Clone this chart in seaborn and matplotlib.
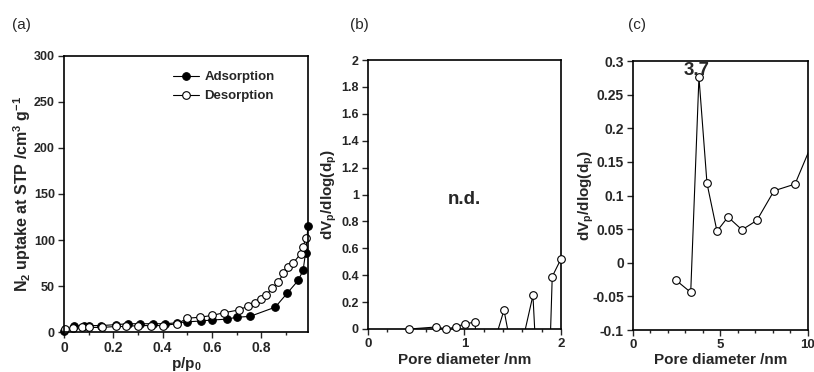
import numpy as np
import seaborn as sns
import matplotlib
matplotlib.use('Agg')
import matplotlib.pyplot as plt
from matplotlib.ticker import MultipleLocator, FuncFormatter

# ---------- data ----------
# (a) N2 isotherm
p_ads = [0.0, 0.04, 0.08, 0.10, 0.15, 0.21, 0.26, 0.31, 0.36, 0.41, 0.46, 0.50, 0.555,
         0.60, 0.66, 0.70, 0.755, 0.857, 0.905, 0.95, 0.97, 0.98, 0.99]
v_ads = [1, 6, 7, 7, 7, 8, 9, 9, 9, 9, 10, 11, 12, 13, 14, 16, 17, 27, 42, 56, 67, 86, 115]

p_des = [0.005, 0.035, 0.075, 0.10, 0.155, 0.21, 0.25, 0.30, 0.355, 0.40, 0.46, 0.50, 0.55,
         0.60, 0.65, 0.71, 0.745, 0.775, 0.80, 0.82, 0.845, 0.87, 0.89, 0.91, 0.93, 0.96, 0.97, 0.98]
v_des = [3, 4, 5, 5, 5, 6, 6, 7, 7, 7, 9, 15, 16, 18, 21, 24, 28, 31, 36, 40, 48, 54, 64, 71,
         75, 85, 92, 102]

# (b) pore size distribution, micropores
dp_b = [0.43, 0.71, 0.81, 0.91, 1.01, 1.11, 1.20, 1.30, 1.41, 1.50, 1.60, 1.71, 1.80, 1.85, 1.91, 2.00]
dv_b = [0.0, 0.015, 0.0, 0.015, 0.04, 0.05, -1.0, -0.12, 0.14, -0.2, -0.1, 0.25, -1.0, -1.0, 0.39, 0.52]

# (c) pore size distribution, mesopores
dp_c = [2.46, 3.30, 3.77, 4.23, 4.80, 5.43, 6.23, 7.08, 8.06, 9.26, 10.6]
dv_c = [-0.026, -0.044, 0.276, 0.118, 0.047, 0.068, 0.049, 0.063, 0.107, 0.117, 0.2]

# ---------- style ----------
sns.set_style('ticks')
plt.rcParams['font.family'] = ['Liberation Sans', 'DejaVu Sans']
plt.rcParams['font.weight'] = 'bold'
plt.rcParams['mathtext.fontset'] = 'custom'
plt.rcParams['mathtext.rm'] = 'Liberation Sans:bold'
plt.rcParams['mathtext.it'] = 'Liberation Sans:bold'
plt.rcParams['mathtext.bf'] = 'Liberation Sans:bold'
plt.rcParams['mathtext.default'] = 'rm'

label_fs = 11
lw = 0.8
ms = 5.5

fig = plt.figure(figsize=(8.14, 3.72), dpi=100)
ax_a = fig.add_axes([0.0786, 0.1075, 0.2998, 0.742])
ax_b = fig.add_axes([0.452, 0.1156, 0.2371, 0.7231])
ax_c = fig.add_axes([0.7776, 0.1129, 0.215, 0.7231])

def g_fmt(v, pos):
    return '%g' % round(v, 4)

for ax in (ax_a, ax_b, ax_c):
    for s in ax.spines.values():
        s.set_linewidth(1.2)
        s.set_color('black')
    ax.tick_params(which='major', direction='out', length=4, width=1.0, pad=2.5)
    ax.tick_params(which='minor', direction='out', length=2.5, width=1.0)
    ax.yaxis.set_major_formatter(FuncFormatter(g_fmt))
    ax.xaxis.set_major_formatter(FuncFormatter(g_fmt))

ax_a.tick_params(axis='x', labelsize=10)
ax_a.tick_params(axis='y', labelsize=9)
ax_b.tick_params(axis='x', labelsize=9.5)
ax_b.tick_params(axis='y', labelsize=9)
ax_c.tick_params(axis='x', labelsize=9.5)
ax_c.tick_params(axis='y', labelsize=10)

# ---------- (a) ----------
sns.lineplot(x=p_ads, y=v_ads, ax=ax_a, sort=False, estimator=None, color='black', lw=lw,
             marker='o', markersize=ms, markerfacecolor='black', markeredgecolor='black',
             clip_on=False, label='Adsorption')
sns.lineplot(x=p_des, y=v_des, ax=ax_a, sort=False, estimator=None, color='black', lw=lw,
             marker='o', markersize=ms, markerfacecolor='white', markeredgecolor='black',
             markeredgewidth=0.8, clip_on=False, label='Desorption')
ax_a.set_xlim(0, 0.99)
ax_a.set_ylim(0, 300)
ax_a.set_xticks([0, 0.2, 0.4, 0.6, 0.8])
ax_a.xaxis.set_minor_locator(MultipleLocator(0.1))
ax_a.yaxis.set_major_locator(MultipleLocator(50))
ax_a.set_xlabel('p/p$_0$', fontsize=label_fs, fontweight='bold')
ax_a.set_ylabel('N$_2$ uptake at STP /cm$^3$ g$^{-1}$', fontsize=11.5, fontweight='bold')
ax_a.xaxis.set_label_coords(0.5, -0.085)
ax_a.yaxis.set_label_coords(-0.125, 0.5)
ax_a.legend(loc='upper right', bbox_to_anchor=(0.895, 0.974), frameon=False, fontsize=9.5,
            handlelength=2.0, handletextpad=0.4, labelspacing=0.5, borderaxespad=0.2)

# ---------- (b) ----------
sns.lineplot(x=dp_b, y=dv_b, ax=ax_b, sort=False, estimator=None, color='black', lw=lw)
mask_b = np.array(dv_b) >= 0
sns.scatterplot(x=np.array(dp_b)[mask_b], y=np.array(dv_b)[mask_b], ax=ax_b, s=ms ** 2,
                facecolor='white', edgecolor='black', linewidth=0.8, clip_on=False, zorder=3)
ax_b.set_xlim(0, 2)
ax_b.set_ylim(0, 2)
ax_b.xaxis.set_major_locator(MultipleLocator(1))
ax_b.xaxis.set_minor_locator(MultipleLocator(0.2))
ax_b.yaxis.set_major_locator(MultipleLocator(0.2))
ax_b.set_xlabel('Pore diameter /nm', fontsize=label_fs, fontweight='bold')
ax_b.set_ylabel('dV$_p$/dlog(d$_p$)', fontsize=label_fs, fontweight='bold')
ax_b.xaxis.set_label_coords(0.5, -0.088)
ax_b.yaxis.set_label_coords(-0.15, 0.5)
ax_b.text(1.0, 0.96, 'n.d.', ha='center', va='center', fontsize=13.5, fontweight='bold')

# ---------- (c) ----------
sns.lineplot(x=dp_c, y=dv_c, ax=ax_c, sort=False, estimator=None, color='black', lw=lw)
mask_c = np.array(dp_c) <= 10
sns.scatterplot(x=np.array(dp_c)[mask_c], y=np.array(dv_c)[mask_c], ax=ax_c, s=ms ** 2,
                facecolor='white', edgecolor='black', linewidth=0.8, clip_on=False, zorder=3)
ax_c.set_xlim(0, 10)
ax_c.set_ylim(-0.1, 0.3)
ax_c.xaxis.set_major_locator(MultipleLocator(5))
ax_c.xaxis.set_minor_locator(MultipleLocator(1))
ax_c.yaxis.set_major_locator(MultipleLocator(0.05))
ax_c.set_xlabel('Pore diameter /nm', fontsize=label_fs, fontweight='bold')
ax_c.set_ylabel('dV$_p$/dlog(d$_p$)', fontsize=label_fs, fontweight='bold')
ax_c.xaxis.set_label_coords(0.5, -0.085)
ax_c.yaxis.set_label_coords(-0.21, 0.5)
ax_c.text(3.65, 0.299, '3.7', ha='center', va='top', fontsize=13.5, fontweight='bold')

# panel letters
for x, s in [(0.026, '(a)'), (0.441, '(b)'), (0.783, '(c)')]:
    fig.text(x, 0.932, s, ha='center', va='center', fontsize=11, fontweight='normal')

fig.savefig('out.png', dpi=100)
